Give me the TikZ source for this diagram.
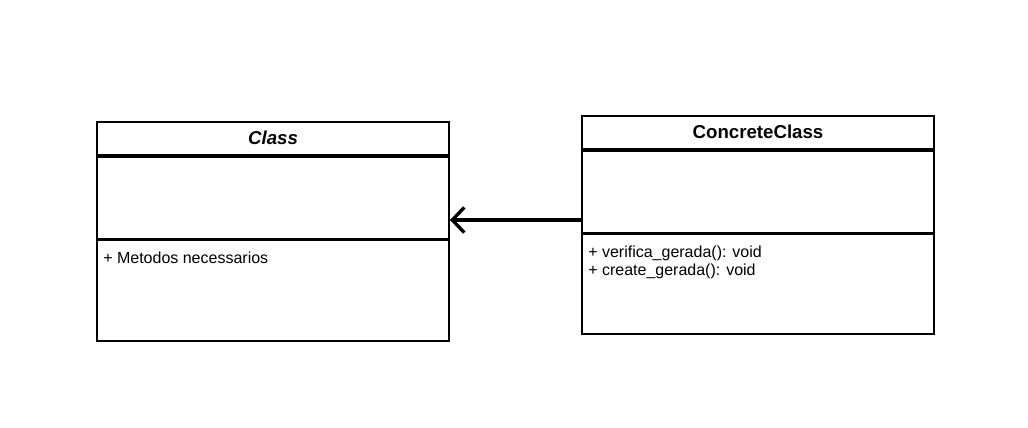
\documentclass[tikz,border=0pt]{standalone}
\usepackage{fontspec}
\setmainfont{Liberation Sans}
\usetikzlibrary{arrows.meta,calc}
\begin{document}
\begin{tikzpicture}[x=0.75pt,y=-0.75pt,
  classbox/.style={draw,line width=1.5pt,minimum width=264pt,minimum height=164pt,inner sep=0pt},
  divider/.style={line width=2.4pt},
  title/.style={font=\bfseries\fontsize{14}{16}\selectfont,inner sep=0pt},
  member/.style={font=\fontsize{12}{13.5}\selectfont,anchor=west,inner sep=0pt,align=left},
  assoc/.style={line width=2.5pt,-{Straight Barb[length=9pt,width=19pt,line width=2.5pt]}}]
\useasboundingbox (0,0) rectangle (1028,428);

% abstract class
\node[classbox] (cl) at (273,231.5) {};
\draw[divider] (97,156) coordinate (cld1a) -- (449,156) coordinate (cld1b);
\draw[divider] (97,239.5) coordinate (cld2a) -- (449,239.5) coordinate (cld2b);
\node[title,font=\bfseries\itshape\fontsize{14}{16}\selectfont] (cltitle) at (273,138) {Class};
\node[member] (clops) at (103,257.5) {+ Metodos necessarios};

% concrete class
\node[classbox,minimum height=163.5pt] (cc) at (758,225) {};
\draw[divider] (582,150) coordinate (ccd1a) -- (934,150) coordinate (ccd1b);
\draw[divider] (582,233.5) coordinate (ccd2a) -- (934,233.5) coordinate (ccd2b);
\node[title] (cctitle) at (758,132) {ConcreteClass};
\node[member] (ccops) at (588,262) {+ verifica\_gerada(): void\\+ create\_gerada(): void};

% association
\coordinate (src) at ($(cc.west)+(0,-5)$);
\draw[assoc] (src) -- (cl.east |- src);
\end{tikzpicture}
\end{document}
